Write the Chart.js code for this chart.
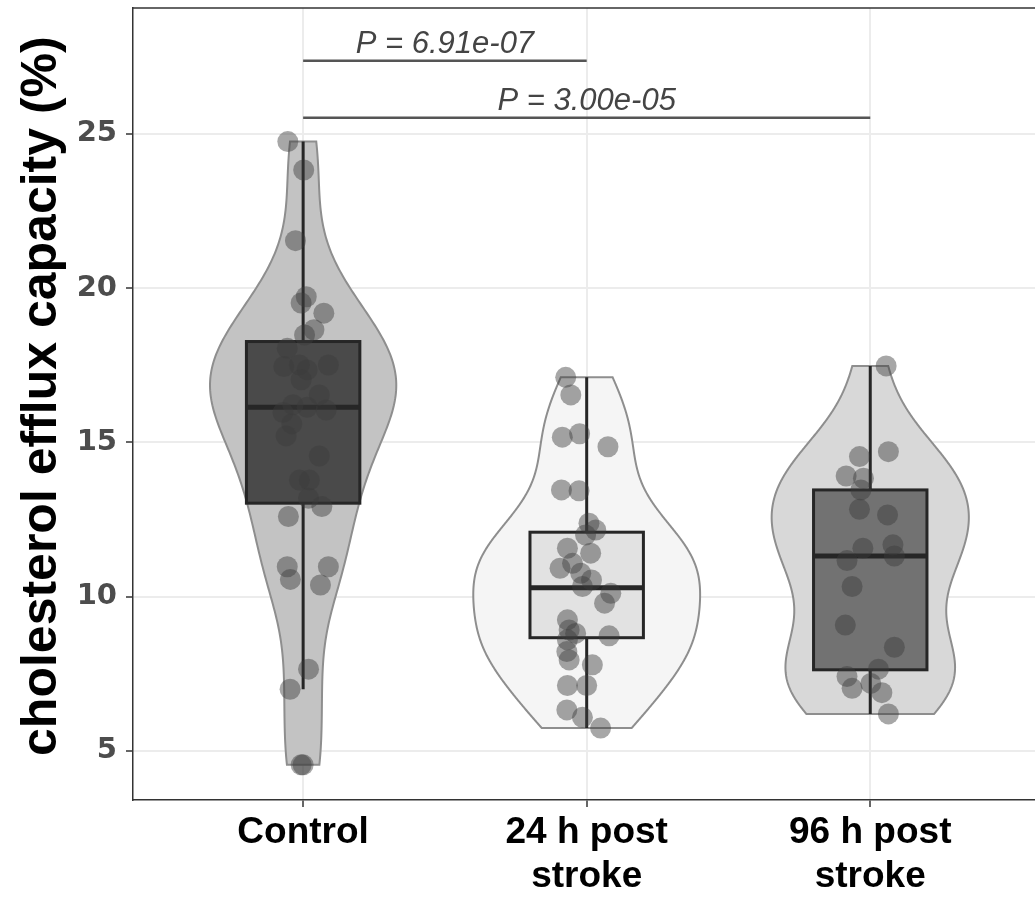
<!DOCTYPE html>
<html>
<head>
<meta charset="utf-8">
<script src="https://cdn.jsdelivr.net/npm/chart.js@4.4.1/dist/chart.umd.min.js"></script>
<style>
  html, body { margin: 0; padding: 0; background: #fff; overflow: hidden; }
  #wrap { width: 1035px; height: 897px; }
</style>
</head>
<body>
<div id="wrap"><canvas id="effluxChart" width="1035" height="897"></canvas></div>
<script>
// categories and tick labels
const groupLabels = [["Control"], ["24 h post", "stroke"], ["96 h post", "stroke"]];
const yTicks = [5, 10, 15, 20, 25];
const yTitle = 'cholesterol efflux capacity (%)';

// points (value, horizontal jitter in category units)
const controlValues = [24.75, 23.83, 21.54, 19.72, 19.52, 19.19, 18.65, 18.48, 18.05, 17.46, 17.51, 17.35, 17.03, 17.51, 16.54, 16.22, 16.14, 15.97, 16.05, 15.6, 15.21, 14.56, 13.78, 13.78, 13.19, 12.92, 12.6, 10.97, 10.56, 10.97, 10.38, 7.65, 7.0, 4.55, 4.55];
const controlJitter = [-0.054, 0.002, -0.027, 0.011, -0.007, 0.073, 0.038, 0.005, -0.056, -0.068, -0.013, 0.014, -0.007, 0.089, 0.057, -0.036, 0.014, -0.071, 0.081, -0.040, -0.060, 0.057, -0.013, 0.022, 0.019, 0.066, -0.052, -0.056, -0.045, 0.089, 0.061, 0.019, -0.046, -0.007, 0.000];

const h24Values = [17.11, 16.54, 15.17, 15.28, 14.86, 13.46, 13.43, 12.38, 12.16, 12.0, 11.57, 11.41, 10.92, 11.08, 10.76, 10.54, 10.33, 10.11, 9.79, 9.25, 8.92, 8.81, 8.73, 8.6, 8.22, 7.95, 7.79, 7.12, 7.12, 6.33, 6.09, 5.74];
const h24Jitter = [-0.074, -0.056, -0.086, -0.025, 0.075, -0.089, -0.027, 0.008, 0.032, -0.004, -0.068, 0.014, -0.094, -0.050, -0.021, 0.017, -0.015, 0.085, 0.063, -0.068, -0.062, -0.039, 0.079, -0.068, -0.070, -0.062, 0.020, -0.068, 0.000, -0.070, -0.015, 0.049];

const h96Values = [17.48, 14.7, 14.54, 13.91, 13.84, 13.46, 12.83, 12.65, 11.57, 11.68, 11.32, 11.17, 10.33, 9.08, 8.36, 7.65, 7.41, 7.19, 7.03, 6.89, 6.2];
const h96Jitter = [0.056, 0.064, -0.038, -0.085, -0.024, -0.033, -0.038, 0.061, -0.026, 0.080, 0.085, -0.082, -0.064, -0.088, 0.085, 0.029, -0.082, 0.002, -0.064, 0.041, 0.064];

// box stats
const whiskerLow = [7.0, 5.74, 6.2];
const boxQ1 = [13.03, 8.67, 7.63];
const boxMedian = [16.14, 10.29, 11.32];
const boxQ3 = [18.27, 12.09, 13.46];
const whiskerHigh = [24.75, 17.11, 17.48];

// significance brackets
const sigFrom = [1, 1];
const sigTo = [2, 3];
const sigY = [27.37, 25.52];
const sigLabels = ["P = 6.91e-07", "P = 3.00e-05"];

const allValues = [controlValues, h24Values, h96Values];
const allJitter = [controlJitter, h24Jitter, h96Jitter];

const violinFill = ["#c3c3c3", "#f5f5f5", "#d8d8d8"];
const boxFill = ["#4a4a4a", "#e2e2e2", "#727272"];

// gaussian kde, bandwidth like R's nrd0, trimmed to data range
function quantile(sorted, p) {
     const h = (sorted.length - 1) * p;
     const lo = Math.floor(h);
     const hi = Math.ceil(h);
     return sorted[lo] + (sorted[hi] - sorted[lo]) * (h - lo);
}
function kde(values) {
     const n = values.length;
     const sorted = values.slice().sort((a, b) => a - b);
     const mean = values.reduce((a, b) => a + b, 0) / n;
     const sd = Math.sqrt(values.reduce((a, b) => a + (b - mean) * (b - mean), 0) / (n - 1));
     const iqr = quantile(sorted, 0.75) - quantile(sorted, 0.25);
     const bw = 0.9 * Math.min(sd, iqr / 1.34) * Math.pow(n, -0.2);
     const lo = sorted[0], hi = sorted[n - 1];
     const out = [];
     for (let k = 0; k < 256; k++) {
          const t = lo + (hi - lo) * k / 255;
          let s = 0;
          values.forEach(v => {
               const z = (t - v) / bw;
               s += Math.exp(-0.5 * z * z);
          });
          out.push({ y: t, d: s / (n * bw * Math.sqrt(2 * Math.PI)) });
     }
     return out;
}
const densities = allValues.map(kde);
const maxDensity = Math.max(...densities.map(ds => Math.max(...ds.map(p => p.d))));
const violinHalfWidth = 0.4;

const violinPlugin = {
     id: 'violins',
     beforeDatasetsDraw(chart) {
          const { ctx, chartArea } = chart;
          const x = chart.scales.x, y = chart.scales.y;
          ctx.save();
          ctx.beginPath();
          ctx.rect(chartArea.left, chartArea.top, chartArea.width, chartArea.height);
          ctx.clip();
          densities.forEach((ds, i) => {
               const pos = i + 1;
               ctx.beginPath();
               ds.forEach((p, k) => {
                    const px = x.getPixelForValue(pos + p.d / maxDensity * violinHalfWidth);
                    const py = y.getPixelForValue(p.y);
                    if (k === 0) ctx.moveTo(px, py); else ctx.lineTo(px, py);
               });
               for (let k = ds.length - 1; k >= 0; k--) {
                    const p = ds[k];
                    ctx.lineTo(x.getPixelForValue(pos - p.d / maxDensity * violinHalfWidth), y.getPixelForValue(p.y));
               }
               ctx.closePath();
               ctx.fillStyle = violinFill[i];
               ctx.fill();
               ctx.strokeStyle = '#8e8e8e';
               ctx.lineWidth = 2;
               ctx.stroke();
          });
          // boxes
          for (let i = 0; i < 3; i++) {
               const pos = i + 1;
               const cx = x.getPixelForValue(pos);
               const l = x.getPixelForValue(pos - 0.2);
               const r = x.getPixelForValue(pos + 0.2);
               ctx.strokeStyle = '#262626';
               ctx.lineWidth = 3;
               ctx.beginPath();
               ctx.moveTo(cx, y.getPixelForValue(whiskerHigh[i]));
               ctx.lineTo(cx, y.getPixelForValue(boxQ3[i]));
               ctx.moveTo(cx, y.getPixelForValue(boxQ1[i]));
               ctx.lineTo(cx, y.getPixelForValue(whiskerLow[i]));
               ctx.stroke();
               const top = y.getPixelForValue(boxQ3[i]);
               const bot = y.getPixelForValue(boxQ1[i]);
               ctx.fillStyle = boxFill[i];
               ctx.fillRect(l, top, r - l, bot - top);
               ctx.strokeRect(l, top, r - l, bot - top);
               ctx.lineWidth = 5;
               ctx.beginPath();
               const my = y.getPixelForValue(boxMedian[i]);
               ctx.moveTo(l, my);
               ctx.lineTo(r, my);
               ctx.stroke();
          }
          ctx.restore();
     },
     afterDatasetsDraw(chart) {
          const { ctx, chartArea } = chart;
          const x = chart.scales.x, y = chart.scales.y;
          ctx.save();
          ctx.fillStyle = '#444';
          ctx.font = 'italic 31px "Liberation Sans", Arial, sans-serif';
          ctx.textAlign = 'center';
          ctx.textBaseline = 'alphabetic';
          sigLabels.forEach((lab, i) => {
               const mid = x.getPixelForValue((sigFrom[i] + sigTo[i]) / 2);
               ctx.fillText(lab, mid, y.getPixelForValue(sigY[i]) - 8);
          });
          // top panel border
          ctx.strokeStyle = '#333';
          ctx.lineWidth = 1.5;
          ctx.beginPath();
          ctx.moveTo(chartArea.left, chartArea.top);
          ctx.lineTo(chartArea.right, chartArea.top);
          ctx.stroke();
          // y axis title
          ctx.translate(42, y.getPixelForValue(16.5));
          ctx.rotate(-Math.PI / 2);
          ctx.fillStyle = '#000';
          ctx.font = 'bold 50px "Liberation Sans", Arial, sans-serif';
          ctx.textBaseline = 'middle';
          ctx.fillText(yTitle, 0, 0);
          ctx.restore();
     }
};

const pointSets = allValues.map((vals, i) => ({
     type: 'scatter',
     data: vals.map((v, k) => ({ x: i + 1 + allJitter[i][k], y: v })),
     backgroundColor: 'rgba(60,60,60,0.45)',
     borderWidth: 0,
     pointRadius: 10.5,
     order: 1
}));

const sigSets = sigY.map((v, i) => ({
     type: 'line',
     data: [{ x: sigFrom[i], y: v }, { x: sigTo[i], y: v }],
     borderColor: '#555',
     borderWidth: 2.5,
     pointRadius: 0,
     fill: false,
     order: 0
}));

const chart = new Chart(document.getElementById('effluxChart').getContext('2d'), {
     type: 'scatter',
     data: { datasets: [...pointSets, ...sigSets] },
     plugins: [violinPlugin],
     options: {
          responsive: false,
          animation: false,
          events: [],
          layout: { autoPadding: false, padding: { top: 8, right: 0, left: 0, bottom: 0 } },
          plugins: { legend: { display: false }, tooltip: { enabled: false } },
          scales: {
               x: {
                    type: 'linear',
                    min: 0.4,
                    max: 3.581,
                    afterBuildTicks: axis => { axis.ticks = [1, 2, 3].map(v => ({ value: v })); },
                    afterFit: s => { s.height = 97; s.paddingLeft = 0; s.paddingRight = 0; },
                    ticks: {
                         callback: v => groupLabels[v - 1],
                         color: '#000',
                         padding: 4,
                         maxRotation: 0,
                         autoSkip: false,
                         font: { family: '"Liberation Sans", Arial, sans-serif', size: 37, weight: 'bold', lineHeight: 1.18 }
                    },
                    grid: { color: '#ececec', lineWidth: 2, tickLength: 7, tickColor: '#333', tickWidth: 1.5 },
                    border: { color: '#333', width: 1.5 }
               },
               y: {
                    min: 3.41,
                    max: 29.08,
                    afterBuildTicks: axis => { axis.ticks = yTicks.map(v => ({ value: v })); },
                    afterFit: s => { s.width = 133; s.paddingTop = 0; s.paddingBottom = 0; },
                    ticks: {
                         color: '#4d4d4d',
                         padding: 9,
                         font: { family: '"DejaVu Sans", sans-serif', size: 29, weight: 'bold' }
                    },
                    grid: { color: '#ececec', lineWidth: 2, tickLength: 7, tickColor: '#333', tickWidth: 1.5 },
                    border: { color: '#333', width: 1.5 }
               }
          }
     }
});
</script>
</body>
</html>
